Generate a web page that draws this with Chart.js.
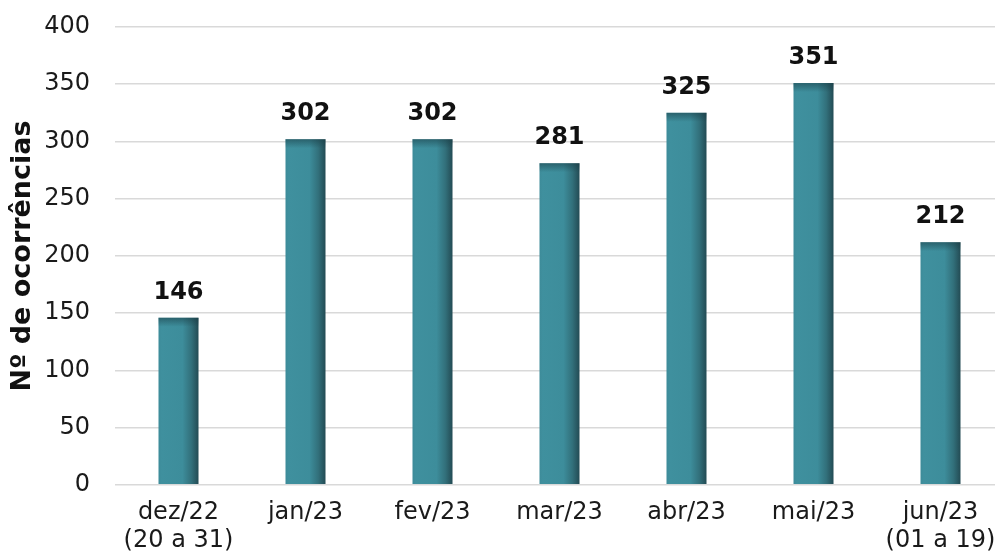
<!DOCTYPE html>
<html>
<head>
<meta charset="utf-8">
<script src="https://cdn.jsdelivr.net/npm/chart.js@4.4.0/dist/chart.umd.min.js"></script>
<style>
  html, body { margin: 0; padding: 0; background: #fff; overflow: hidden; }
  #wrap { width: 1004px; height: 557px; position: relative; }
</style>
</head>
<body>
<div id="wrap"><canvas id="chart"></canvas></div>
<script>
// data
const labels = [['dez/22', '(20 a 31)'], 'jan/23', 'fev/23', 'mar/23', 'abr/23', 'mai/23', ['jun/23', '(01 a 19)']];
const occurrences = [146, 302, 302, 281, 325, 351, 212];
const yTitle = 'Nº de ocorrências';

const FONT = "'DejaVu Sans', Verdana, sans-serif";

// horizontal shading on each bar, light teal going dark at the right edge
function barFill(ctx) {
  const chart = ctx.chart;
  const xs = chart.scales.x;
  if (!chart.chartArea || !xs || ctx.dataIndex === undefined) return '#3e8e9c';
  const cx = xs.getPixelForValue(ctx.dataIndex);
  const w = (chart.chartArea.width / labels.length) * 0.315;
  const g = chart.ctx.createLinearGradient(cx - w / 2, 0, cx + w / 2, 0);
  g.addColorStop(0, '#3d8b99');
  g.addColorStop(0.08, '#3f909e');
  g.addColorStop(0.6, '#3d8d9b');
  g.addColorStop(0.82, '#32707b');
  g.addColorStop(1, '#234b54');
  return g;
}

// dark bevel at the top of each bar + values written above the bars
const valueLabels = {
  id: 'valueLabels',
  afterDatasetsDraw(chart) {
    const c = chart.ctx;
    const meta = chart.getDatasetMeta(0);
    c.save();
    meta.data.forEach(bar => {
      const g = c.createLinearGradient(0, bar.y, 0, bar.y + 9);
      g.addColorStop(0, 'rgba(25,60,68,0.55)');
      g.addColorStop(1, 'rgba(25,60,68,0)');
      c.fillStyle = g;
      c.fillRect(bar.x - bar.width / 2, bar.y, bar.width, 9);
    });
    c.font = 'bold 24px ' + FONT;
    c.fillStyle = '#111';
    c.textAlign = 'center';
    c.textBaseline = 'middle';
    meta.data.forEach((bar, i) => {
      c.fillText(occurrences[i], bar.x, bar.y - 25);
    });
    c.restore();
  }
};

new Chart(document.getElementById('chart'), {
  type: 'bar',
  data: {
    labels: labels,
    datasets: [{
      data: occurrences,
      backgroundColor: barFill,
      borderWidth: 0,
      categoryPercentage: 1,
      barPercentage: 0.315
    }]
  },
  plugins: [valueLabels],
  options: {
    responsive: true,
    maintainAspectRatio: false,
    animation: false,
    layout: { padding: { left: 5, right: 0, top: 27, bottom: -12 } },
    plugins: {
      legend: { display: false },
      tooltip: { enabled: false }
    },
    scales: {
      x: {
        grid: { display: false, drawTicks: false },
        border: { display: false },
        ticks: {
          color: '#1a1a1a',
          font: { family: FONT, size: 24, lineHeight: 1.17 },
          padding: 14,
          maxRotation: 0,
          autoSkip: false
        },
        afterFit: s => { s.paddingLeft = 0; s.paddingRight = 0; }
      },
      y: {
        min: 0,
        max: 400,
        grid: { color: '#d9d9d9', lineWidth: 1.5, drawTicks: false },
        border: { display: false },
        ticks: {
          stepSize: 50,
          color: '#1a1a1a',
          font: { family: FONT, size: 24 },
          padding: 25
        },
        title: {
          display: true,
          text: yTitle,
          color: '#111',
          font: { family: FONT, size: 27, weight: 'bold' },
          padding: 2
        },
        afterFit: s => { s.width = 110; s.paddingTop = 0; s.paddingBottom = 0; }
      }
    }
  }
});
</script>
</body>
</html>
